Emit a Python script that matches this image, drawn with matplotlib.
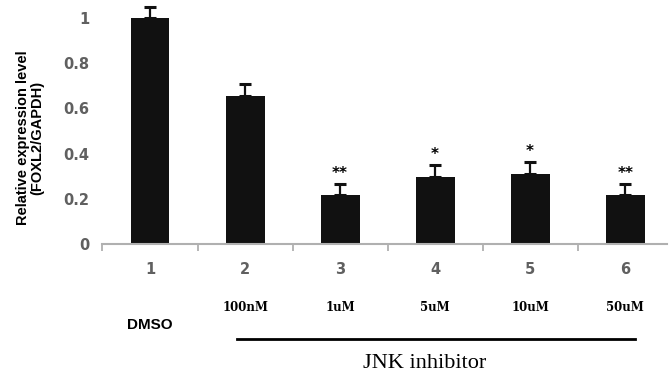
import matplotlib.pyplot as plt
import numpy as np

groups = ["1", "2", "3", "4", "5", "6"]
values = [1.0, 0.655, 0.217, 0.297, 0.31, 0.217]
errors = [0.05, 0.053, 0.048, 0.053, 0.053, 0.048]
stars = ["", "", "**", "*", "*", "**"]
doses = ["", "100nM", "1uM", "5uM", "10uM", "50uM"]

fig = plt.figure(figsize=(6.69, 3.74), dpi=100)
ax = fig.add_axes([102/669, 1-244/374, 565/669, 244/374])

x = np.arange(1, 7)
ax.bar(x, values, width=0.41, color="#111111", zorder=2)
ax.errorbar(x, values, yerr=[np.zeros(6), errors], fmt="none", ecolor="#111111",
            elinewidth=1.6, capsize=4, capthick=2.2, zorder=3)
for xi, v, e, s in zip(x, values, errors, stars):
    if s:
        ax.text(xi, v + e + 0.048, s, ha="center", va="center", fontsize=11, fontweight="bold")

ax.set_xlim(0.495, 6.44)
ax.set_ylim(0, 244/226)
for side in ["top", "right", "left"]:
    ax.spines[side].set_visible(False)
ax.spines["bottom"].set_color("#b0b0b0")
ax.spines["bottom"].set_linewidth(1.5)

ax.set_yticks([0, 0.2, 0.4, 0.6, 0.8, 1])
ax.set_yticklabels(["0", "0.2", "0.4", "0.6", "0.8", "1"])
ax.tick_params(axis="y", length=0, pad=9, labelsize=10.5, labelcolor="#606060")
ax.set_xticks(x)
ax.set_xticklabels(groups)
ax.tick_params(axis="x", which="major", length=0, pad=13, labelsize=10.5, labelcolor="#606060")
ax.set_xticks(np.arange(0.5, 6.5, 1), minor=True)
ax.tick_params(axis="x", which="minor", length=5, width=1.3, color="#b0b0b0")
for lab in ax.get_xticklabels() + ax.get_yticklabels():
    lab.set_fontweight("bold")

tr = ax.get_xaxis_transform()
for xi, d in zip(x, doses):
    if d:
        ax.text(xi, -0.262, d, transform=tr, ha="center", va="center",
                fontsize=8.5, fontweight="bold", family="DejaVu Serif")
ax.text(1, -0.332, "DMSO", transform=tr, ha="center", va="center",
        fontsize=11, fontweight="bold", family="Liberation Sans")
ax.plot([1.916, 6.105], [-0.389, -0.389], transform=tr, color="black", lw=2, clip_on=False)
ax.text(3.89, -0.49, "JNK inhibitor", transform=tr, ha="center", va="center",
        fontsize=16, family="Liberation Serif")

fig.text(30/669, 1-138/374, "Relative expression level\n(FOXL2/GAPDH)", rotation=90,
         ha="center", va="center", fontsize=10.5, fontweight="bold",
         family="Liberation Sans", linespacing=1.0)

fig.savefig("out.png", dpi=100)
